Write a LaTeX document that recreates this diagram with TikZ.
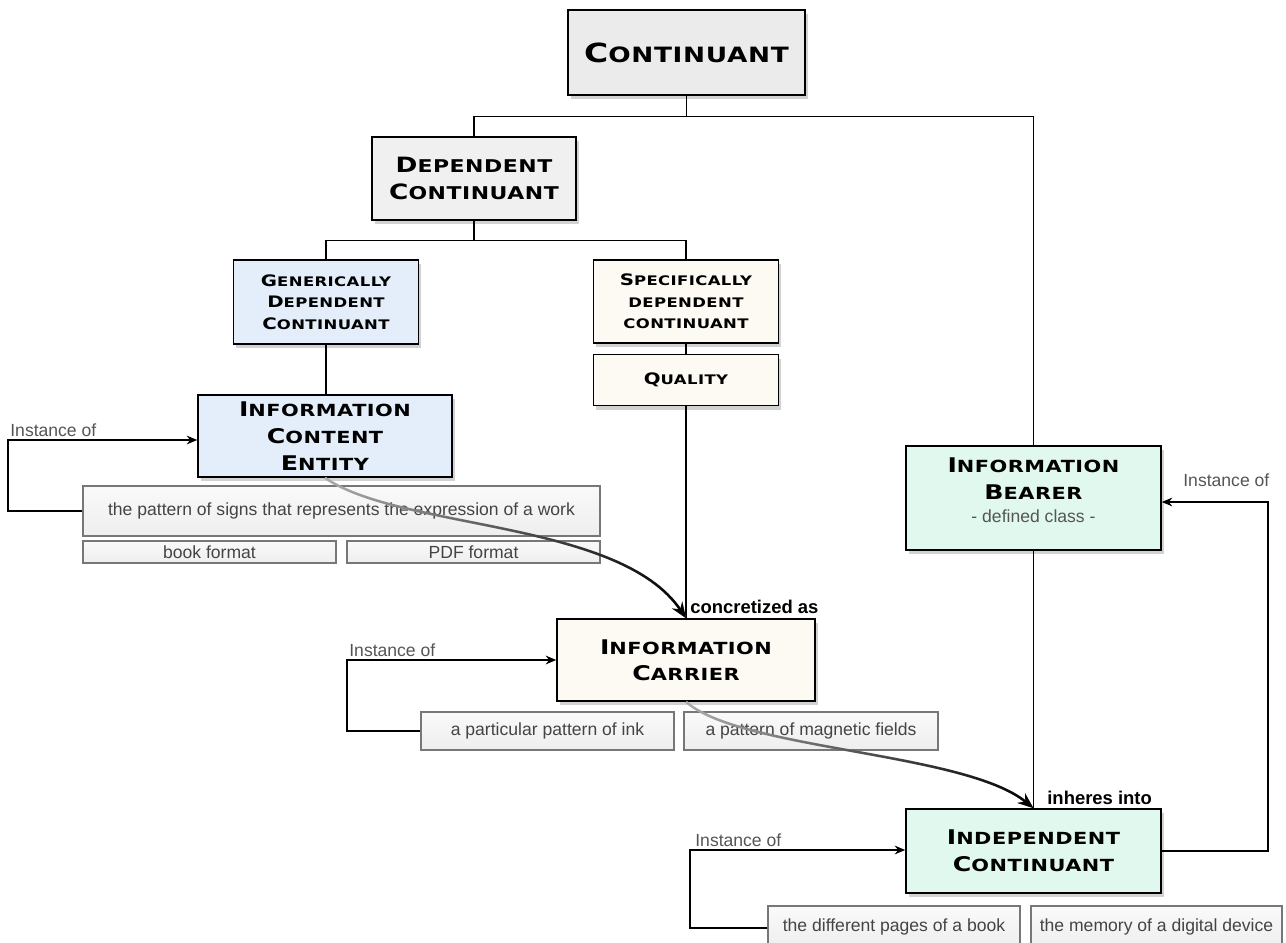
\documentclass[tikz,border=0pt]{standalone}
\usepackage{fontspec}
\setmainfont{Liberation Sans}
\newfontfamily\tfont{DejaVu Sans}[FakeStretch=1.25, LetterSpace=3]
\usetikzlibrary{shadows,fadings,arrows.meta}
\definecolor{contfill}{HTML}{EBEBEB}
\definecolor{dcfill}{HTML}{F0F0F0}
\definecolor{bluefill}{HTML}{E4EEFB}
\definecolor{creamfill}{HTML}{FDFAF3}
\definecolor{mintfill}{HTML}{E0F8EE}
\definecolor{subtop}{HTML}{FAFAFA}
\definecolor{subbot}{HTML}{EEEEEE}
\definecolor{subline}{HTML}{777777}
\definecolor{lblgray}{HTML}{555555}
\definecolor{subtext}{HTML}{444444}
\newcommand\T[2]{{\fontsize{\bigs}{\bskip}\selectfont #1}{\fontsize{\smalls}{\bskip}\selectfont #2}}
\tikzset{
  wh/.style 2 args={minimum width=#1*0.02cm, minimum height=#2*0.02cm},
  title/.style n args={3}{font=\tfont\bfseries\fontsize{#1}{#3}\selectfont\def\bigs{#1pt}\def\smalls{#2pt}\def\bskip{#3pt}},
  box/.style={draw=black, line width=0.9pt, inner sep=0pt, align=center,
    drop shadow={shadow xshift=1.5pt, shadow yshift=-2.5pt, opacity=0.35}},
  sub/.style={draw=subline, line width=0.6pt, top color=subtop, bottom color=subbot,
    inner sep=0pt, font=\fontsize{10}{12}\selectfont, text=subtext},
  tree/.style={line width=0.7pt},
  inst/.style={line width=0.8pt, -{Stealth[length=6pt,width=5pt,inset=2pt]}},
  lbl/.style={font=\fontsize{10}{12}\selectfont, text=lblgray, inner sep=0pt, anchor=base west},
  rel/.style={font=\bfseries\fontsize{10.5}{12}\selectfont, inner sep=0pt, anchor=base west},
  curv/.style={line width=1.4pt, -{Stealth[length=9pt,width=7pt,inset=3pt]}},
}
\begin{document}
\begin{tikzpicture}[x=0.02cm, y=-0.02cm]
\fill[white] (0,0) rectangle (1286,943);
\useasboundingbox (0,0) rectangle (1286,943);

% main boxes
\node[box, fill=contfill, line width=1.6pt, wh={237}{85}, title={15}{12}{18}] (cont) at (686.5,52.5) {\T{C}{ONTINUANT}};
\node[box, fill=dcfill, wh={204}{83}, title={12}{10}{15.4}] (dc) at (474,178.5) {\T{D}{EPENDENT}\\\T{C}{ONTINUANT}};
\node[box, fill=bluefill, wh={185}{84}, title={9}{7.5}{12.2}] (gdc) at (326,302) {\T{G}{ENERICALLY}\\\T{D}{EPENDENT}\\\T{C}{ONTINUANT}};
\node[box, fill=creamfill, wh={185}{83}, title={9}{7.5}{12.2}] (sdc) at (686,301.5) {\T{S}{PECIFICALLY}\\\T{}{DEPENDENT}\\\T{}{CONTINUANT}};
\node[box, fill=creamfill, wh={185}{51}, title={9}{7.5}{12.2}] (qual) at (686,380) {\T{Q}{UALITY}};
\node[box, fill=bluefill, wh={254}{82}, title={11.5}{9.5}{15.2}] (ice) at (325,436) {\T{I}{NFORMATION}\\\T{C}{ONTENT}\\\T{E}{NTITY}};
\node[box, fill=mintfill, wh={255}{104}, title={11.5}{9.5}{15}] (ib) at (1033.5,498) {\T{I}{NFORMATION}\\\T{B}{EARER}\\[-2pt]{\normalfont\fontsize{10}{12}\selectfont\color{lblgray}- defined class -\rule[-9pt]{0pt}{0pt}}};
\node[box, fill=creamfill, wh={258}{82}, title={11.5}{9.5}{15}] (car) at (686,660) {\T{I}{NFORMATION}\\\T{C}{ARRIER}};
\node[box, fill=mintfill, wh={255}{84}, title={11.5}{9.5}{15.4}] (indc) at (1033.5,851) {\T{I}{NDEPENDENT}\\\T{C}{ONTINUANT}};

% example boxes
\node[sub, wh={517}{50}] (pattern) at (341.5,511) {the pattern of signs that represents the expression of a work};
\node[sub, wh={253}{22}] (book) at (209.5,552) {book format};
\node[sub, wh={253}{22}] (pdf) at (473.5,552) {PDF format};
\node[sub, wh={253}{38}] (ink) at (547.5,731) {a particular pattern of ink};
\node[sub, wh={254}{38}] (mag) at (811,731) {a pattern of magnetic fields};
\node[sub, wh={252}{42}] (pages) at (894,927) {the different pages of a book};
\node[sub, wh={251}{42}] (memory) at (1156.5,927) {the memory of a digital device};

% taxonomy lines
\draw[tree] (cont.south) -- ++(0,20) coordinate (j1);
\draw[tree] (dc.north) |- (j1) -| (ib.north);
\draw[tree] (dc.south) -- ++(0,20) coordinate (j2);
\draw[tree] (gdc.north) |- (j2) -| (sdc.north);
\draw[tree] (gdc.south) -- (gdc.south |- ice.north);
\draw[tree] (sdc.south) -- (qual.north);
\draw[tree] (qual.south) -- (car.north);
\draw[tree] (ib.south) -- (indc.north);

% instance-of loops
\coordinate (l1) at (8,440);
\draw[inst] (pattern.west) -| (l1) -- (ice.west |- l1);
\node[lbl] (t1) at (10,436) {Instance of};
\coordinate (l2) at (347,660);
\draw[inst] (ink.west) -| (l2) -- (car.west |- l2);
\node[lbl] (t2) at (349,656) {Instance of};
\coordinate (l3) at (690,850);
\draw[inst] (pages.west |- 0,928) -| (l3) -- (indc.west |- l3);
\node[lbl] (t3) at (695,846) {Instance of};
\coordinate (l4) at (1268,502);
\draw[inst] (indc.east) -| (l4) -- (ib.east |- l4);
\node[lbl] (t4) at (1183,486) {Instance of};

% relation curves
\draw[curv, gray!65] (ice.south) .. controls (400,530) and (620,520) .. (car.north);
\draw[curv, black, path fading=west] (ice.south) .. controls (400,530) and (620,520) .. (car.north);
\node[rel] (concr) at (690,613) {concretized as};
\draw[curv, gray!65] (car.south) .. controls (740,750) and (965,752) .. (indc.north);
\draw[curv, black, path fading=west] (car.south) .. controls (740,750) and (965,752) .. (indc.north);
\node[rel] (inh) at (1047,804) {inheres into};
\end{tikzpicture}
\end{document}
